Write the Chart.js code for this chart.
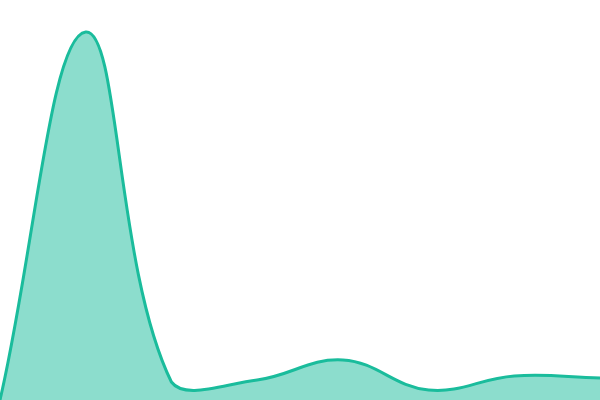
<!DOCTYPE html>
<html>
<head>
<meta charset="utf-8">
<script src="https://cdn.jsdelivr.net/npm/chart.js@4/dist/chart.umd.min.js"></script>
<style>
  html, body { margin: 0; padding: 0; background: #fff; }
  #wrap { width: 600px; height: 400px; }
</style>
</head>
<body>
<div id="wrap"><canvas id="areaChart"></canvas></div>
<script>
const labels = ['1', '2', '3', '4', '5', '6', '7', '8'];
const values = [0, 92, 4.5, 5, 10, 2.5, 6, 5.5];

const ctx = document.getElementById('areaChart').getContext('2d');
const areaChart = new Chart(ctx, {
    type: 'line',
    data: {
        labels: labels,
        datasets: [{
            data: values,
            fill: true,
            backgroundColor: 'rgba(26, 188, 156, 0.5)',
            borderColor: '#1abc9c',
            borderWidth: 3,
            tension: 0.4,
            pointRadius: 0
        }]
    },
    options: {
        responsive: true,
        maintainAspectRatio: false,
        animation: false,
        layout: { padding: 0 },
        plugins: {
            legend: { display: false },
            tooltip: { enabled: false }
        },
        scales: {
            x: { display: false },
            y: { display: false, min: 0, max: 100 }
        }
    }
});
</script>
</body>
</html>
